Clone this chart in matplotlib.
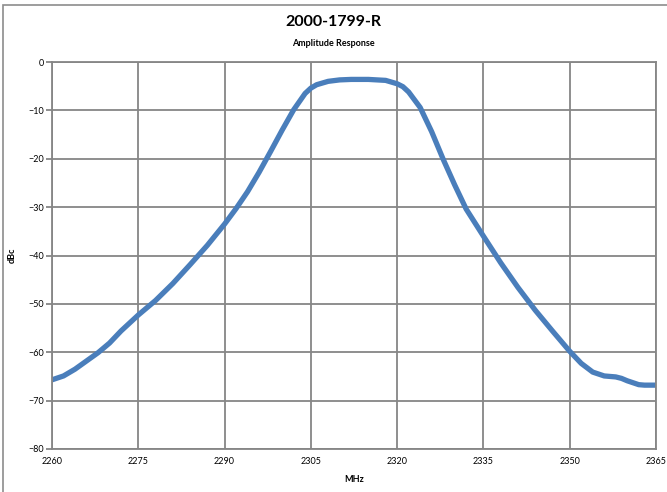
import numpy as np
import matplotlib.pyplot as plt
from matplotlib.patches import Rectangle

# Data
freq = [2260, 2262, 2264, 2266, 2268, 2270, 2272, 2275, 2278, 2281, 2284, 2287,
        2290, 2292, 2294, 2296, 2298, 2300, 2302, 2304, 2305, 2306, 2308, 2310,
        2312, 2315, 2318, 2320, 2321, 2322, 2324, 2326, 2328, 2330, 2332, 2335,
        2338, 2341, 2344, 2347, 2350, 2352, 2354, 2356, 2358, 2359, 2360, 2362,
        2363, 2365]
dbc = [-65.7, -64.9, -63.5, -61.8, -60.1, -58.1, -55.6, -52.3, -49.3, -45.8, -41.9, -37.9,
       -33.5, -30.3, -26.8, -22.8, -18.5, -14.1, -9.9, -6.5, -5.4, -4.7, -4.0, -3.7,
       -3.6, -3.6, -3.8, -4.5, -5.1, -6.2, -9.4, -14.4, -20.1, -25.4, -30.4, -36.0,
       -41.5, -46.6, -51.3, -55.6, -59.8, -62.3, -64.1, -64.9, -65.1, -65.4, -65.9, -66.7,
       -66.8, -66.8]

xticks = [2260, 2275, 2290, 2305, 2320, 2335, 2350, 2365]
yticks = [0, -10, -20, -30, -40, -50, -60, -70, -80]

plt.rcParams['font.family'] = ['Lato', 'DejaVu Sans']

fig = plt.figure(figsize=(6.67, 4.92), dpi=100)
ax = fig.add_axes([52 / 667, 1 - 449 / 492, 604 / 667, 387 / 492])

# outer chart frame (left and top edges visible)
fig.patches.append(Rectangle((3 / 667, -0.05), 1.1, 1 - 5 / 492 + 0.05,
                             transform=fig.transFigure, fill=False,
                             edgecolor="#8c8c8c", linewidth=1.2))

ax.plot(freq, dbc, color="#4a7ebb", linewidth=3.8,
        solid_capstyle="butt", solid_joinstyle="round")

ax.set_xlim(2260, 2365)
ax.set_ylim(-80, 0)
ax.set_xticks(xticks)
ax.set_yticks(yticks)
ax.grid(True, color="#868686", linewidth=1.3)
ax.set_axisbelow(True)
for s in ax.spines.values():
    s.set_color("#868686")
    s.set_linewidth(1.3)
ax.tick_params(axis="y", length=4, width=1.3, color="#868686", labelsize=6.5, pad=2)
ax.tick_params(axis="x", length=0, labelsize=6.5, pad=6)

ax.set_xlabel("MHz", fontsize=6.5, fontweight="bold", labelpad=6)
ax.set_ylabel("dBc", fontsize=6.5, fontweight="bold", labelpad=8)

fig.text(0.5, 1 - 22 / 492, "2000-1799-R", ha="center", va="center",
         fontsize=11.5, fontweight="bold")
fig.text(0.5, 1 - 43 / 492, "Amplitude Response", ha="center", va="center",
         fontsize=6.5, fontweight="bold")

fig.savefig("out.png", dpi=100)
